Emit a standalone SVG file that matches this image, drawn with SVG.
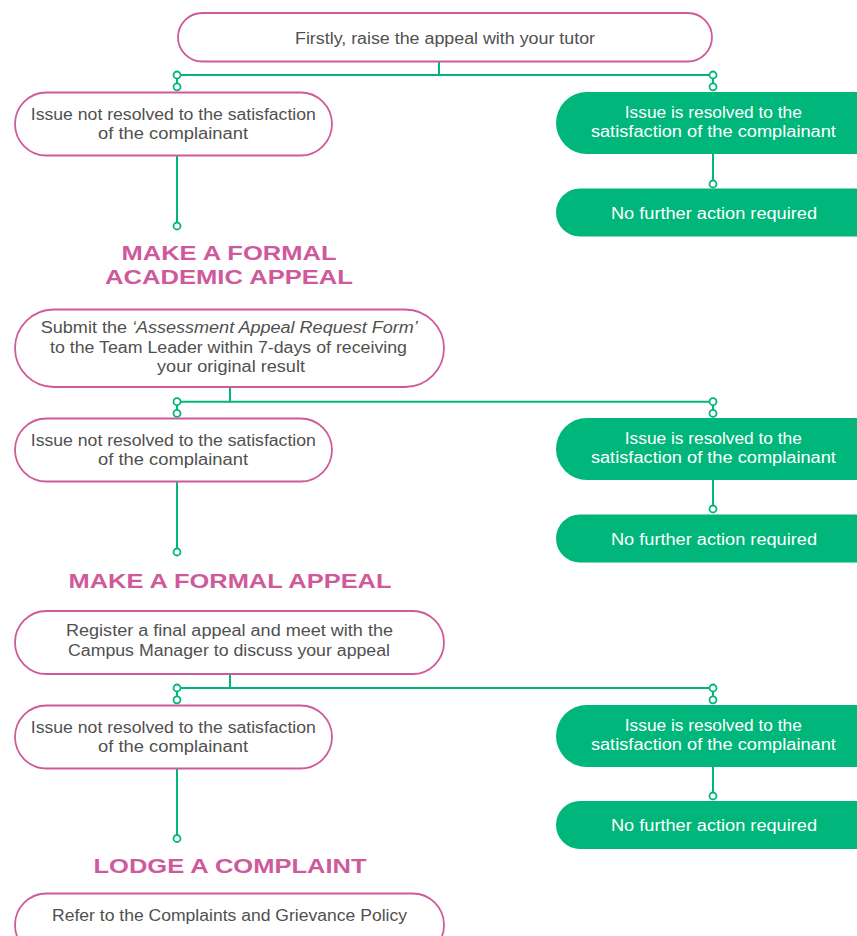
<svg xmlns="http://www.w3.org/2000/svg" width="857" height="936" viewBox="0 0 857 936">
<style>
.pk{fill:#ffffff;stroke:#CF5A9B;stroke-width:1.8}
.gr{fill:#00B67A;stroke:none}
.t{font-family:"Liberation Sans","Open Sans",sans-serif;font-size:16px;fill:#505050;text-anchor:middle}
.tw{font-family:"Liberation Sans","Open Sans",sans-serif;font-size:16px;fill:#ffffff;text-anchor:middle}
.h{font-family:"Liberation Sans","Open Sans",sans-serif;font-size:21px;font-weight:bold;fill:#CF5A9B;text-anchor:middle}
.ln{stroke:#00B67A;stroke-width:2;fill:none}
.dot{fill:#ffffff;stroke:#00B67A;stroke-width:1.8}
</style>
<rect width="857" height="936" fill="#ffffff"/>
<g id="connectors">
  <path class="ln" d="M439 61.5V75M177 75H713M177 75V86.5M713 75V86.5M177 155.5V222.5M713 154V180.5"/>
  <path class="ln" d="M230 387V401.7M177 401.7H713M177 401.7V413.3M713 401.7V413.3M177 481.5V548.5M713 480V505.5"/>
  <path class="ln" d="M230 674V688M177 688H713M177 688V699.5M713 688V699.5M177 768.5V834.5M713 767V792.5"/>
  <g>
    <circle class="dot" cx="177" cy="75" r="3.5"/><circle class="dot" cx="177" cy="86.8" r="3.5"/>
    <circle class="dot" cx="713" cy="75" r="3.5"/><circle class="dot" cx="713" cy="86.8" r="3.5"/>
    <circle class="dot" cx="177" cy="226" r="3.5"/><circle class="dot" cx="713" cy="184" r="3.5"/>
    <circle class="dot" cx="177" cy="401.7" r="3.5"/><circle class="dot" cx="177" cy="413.3" r="3.5"/>
    <circle class="dot" cx="713" cy="401.7" r="3.5"/><circle class="dot" cx="713" cy="413.3" r="3.5"/>
    <circle class="dot" cx="177" cy="552" r="3.5"/><circle class="dot" cx="713" cy="509" r="3.5"/>
    <circle class="dot" cx="177" cy="688" r="3.5"/><circle class="dot" cx="177" cy="699.8" r="3.5"/>
    <circle class="dot" cx="713" cy="688" r="3.5"/><circle class="dot" cx="713" cy="699.8" r="3.5"/>
    <circle class="dot" cx="177" cy="838.5" r="3.5"/><circle class="dot" cx="713" cy="796" r="3.5"/>
  </g>
</g>
<g id="n-tutor">
  <rect class="pk" x="178" y="13" width="534" height="48.5" rx="24.25"/>
  <text class="t" x="445" y="43.5" textLength="300" lengthAdjust="spacingAndGlyphs">Firstly, raise the appeal with your tutor</text>
</g>
<g id="n-notres1">
  <rect class="pk" x="15" y="92.5" width="317" height="63" rx="31.5"/>
  <text class="t" x="173.3" y="120" textLength="285" lengthAdjust="spacingAndGlyphs">Issue not resolved to the satisfaction</text>
  <text class="t" x="173" y="139" textLength="150" lengthAdjust="spacingAndGlyphs">of the complainant</text>
</g>
<g id="n-res1">
  <rect class="gr" x="556" y="92" width="340" height="62" rx="31"/>
  <text class="tw" x="713.3" y="117.7" textLength="177" lengthAdjust="spacingAndGlyphs">Issue is resolved to the</text>
  <text class="tw" x="713.4" y="136.7" textLength="245" lengthAdjust="spacingAndGlyphs">satisfaction of the complainant</text>
</g>
<g id="n-nfa1">
  <rect class="gr" x="556" y="188.5" width="340" height="48" rx="24"/>
  <text class="tw" x="714" y="218.5" textLength="206" lengthAdjust="spacingAndGlyphs">No further action required</text>
</g>
<g id="h-academic">
  <text class="h" x="229" y="259.5" textLength="215" lengthAdjust="spacingAndGlyphs">MAKE A FORMAL</text>
  <text class="h" x="229" y="283.5" textLength="248" lengthAdjust="spacingAndGlyphs">ACADEMIC APPEAL</text>
</g>
<g id="n-submit">
  <rect class="pk" x="15" y="309.5" width="429" height="77.5" rx="38.75"/>
  <text class="t" x="229.3" y="333" textLength="377" lengthAdjust="spacingAndGlyphs">Submit the <tspan font-style="italic">‘Assessment Appeal Request Form’</tspan></text>
  <text class="t" x="228.5" y="352.5" textLength="357" lengthAdjust="spacingAndGlyphs">to the Team Leader within 7-days of receiving</text>
  <text class="t" x="231" y="371.5" textLength="148" lengthAdjust="spacingAndGlyphs">your original result</text>
</g>
<g id="n-notres2">
  <rect class="pk" x="15" y="418.5" width="317" height="63" rx="31.5"/>
  <text class="t" x="173.3" y="446" textLength="285" lengthAdjust="spacingAndGlyphs">Issue not resolved to the satisfaction</text>
  <text class="t" x="173" y="465" textLength="150" lengthAdjust="spacingAndGlyphs">of the complainant</text>
</g>
<g id="n-res2">
  <rect class="gr" x="556" y="418" width="340" height="62" rx="31"/>
  <text class="tw" x="713.3" y="443.7" textLength="177" lengthAdjust="spacingAndGlyphs">Issue is resolved to the</text>
  <text class="tw" x="713.4" y="462.7" textLength="245" lengthAdjust="spacingAndGlyphs">satisfaction of the complainant</text>
</g>
<g id="n-nfa2">
  <rect class="gr" x="556" y="514.5" width="340" height="48" rx="24"/>
  <text class="tw" x="714" y="544.5" textLength="206" lengthAdjust="spacingAndGlyphs">No further action required</text>
</g>
<g id="h-formal">
  <text class="h" x="230" y="587.5" textLength="323" lengthAdjust="spacingAndGlyphs">MAKE A FORMAL APPEAL</text>
</g>
<g id="n-register">
  <rect class="pk" x="15" y="611" width="429" height="63" rx="31.5"/>
  <text class="t" x="229.5" y="636" textLength="327" lengthAdjust="spacingAndGlyphs">Register a final appeal and meet with the</text>
  <text class="t" x="229" y="656" textLength="322" lengthAdjust="spacingAndGlyphs">Campus Manager to discuss your appeal</text>
</g>
<g id="n-notres3">
  <rect class="pk" x="15" y="705.5" width="317" height="63" rx="31.5"/>
  <text class="t" x="173.3" y="733" textLength="285" lengthAdjust="spacingAndGlyphs">Issue not resolved to the satisfaction</text>
  <text class="t" x="173" y="752" textLength="150" lengthAdjust="spacingAndGlyphs">of the complainant</text>
</g>
<g id="n-res3">
  <rect class="gr" x="556" y="705" width="340" height="62" rx="31"/>
  <text class="tw" x="713.3" y="730.7" textLength="177" lengthAdjust="spacingAndGlyphs">Issue is resolved to the</text>
  <text class="tw" x="713.4" y="749.7" textLength="245" lengthAdjust="spacingAndGlyphs">satisfaction of the complainant</text>
</g>
<g id="n-nfa3">
  <rect class="gr" x="556" y="801" width="340" height="48" rx="24"/>
  <text class="tw" x="714" y="831" textLength="206" lengthAdjust="spacingAndGlyphs">No further action required</text>
</g>
<g id="h-complaint">
  <text class="h" x="230" y="873" textLength="273" lengthAdjust="spacingAndGlyphs">LODGE A COMPLAINT</text>
</g>
<g id="n-refer">
  <rect class="pk" x="15" y="893.5" width="429" height="63" rx="31.5"/>
  <text class="t" x="229.5" y="921" textLength="355" lengthAdjust="spacingAndGlyphs">Refer to the Complaints and Grievance Policy</text>
</g>
</svg>
